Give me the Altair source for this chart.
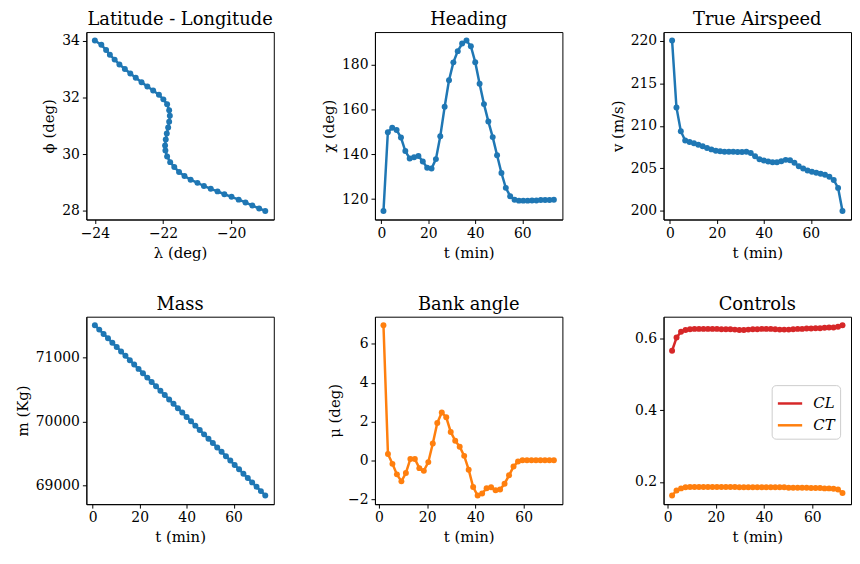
import altair as alt
import pandas as pd

# ---- data ----
t_state = [0.93, 2.79, 4.65, 6.51, 8.37, 10.23, 12.09, 13.95, 15.81, 17.67, 19.53, 21.39, 23.25,
           25.11, 26.97, 28.83, 30.69, 32.55, 34.41, 36.27, 38.13, 39.99, 41.85, 43.71, 45.57,
           47.43, 49.29, 51.15, 53.01, 54.87, 56.73, 58.59, 60.45, 62.31, 64.17, 66.03, 67.89,
           69.75, 71.61, 73.47]
t_ctrl = [1.86, 3.72, 5.58, 7.44, 9.30, 11.16, 13.02, 14.88, 16.74, 18.60, 20.46, 22.32, 24.18,
          26.04, 27.90, 29.76, 31.62, 33.48, 35.34, 37.20, 39.06, 40.92, 42.78, 44.64, 46.50,
          48.36, 50.22, 52.08, 53.94, 55.80, 57.66, 59.52, 61.38, 63.24, 65.10, 66.96, 68.82,
          70.68, 72.54]

lon = [-24.00, -23.81, -23.67, -23.56, -23.42, -23.28, -23.12, -22.96, -22.80, -22.63, -22.46,
       -22.29, -22.12, -21.99, -21.88, -21.82, -21.80, -21.82, -21.85, -21.89, -21.92, -21.94,
       -21.93, -21.88, -21.79, -21.67, -21.53, -21.37, -21.19, -20.99, -20.80, -20.60, -20.40,
       -20.20, -19.99, -19.78, -19.58, -19.38, -19.18, -19.00]
lat = [34.00, 33.85, 33.67, 33.50, 33.33, 33.16, 33.00, 32.84, 32.69, 32.53, 32.38, 32.24, 32.09,
       31.93, 31.76, 31.55, 31.35, 31.14, 30.94, 30.73, 30.52, 30.31, 30.13, 29.92, 29.72, 29.55,
       29.37, 29.23, 29.10, 28.99, 28.88, 28.78, 28.69, 28.59, 28.50, 28.40, 28.30, 28.19, 28.09,
       28.00]
heading = [114.7, 149.8, 151.8, 150.8, 147.4, 141.4, 138.1, 138.6, 139.2, 136.7, 134.0, 133.6,
           137.8, 148.0, 161.1, 172.9, 180.9, 185.9, 189.3, 190.6, 188.1, 181.0, 171.4, 162.3,
           154.6, 147.6, 139.5, 131.6, 125.0, 121.3, 119.7, 119.3, 119.3, 119.3, 119.4, 119.4,
           119.6, 119.6, 119.6, 119.7]
airspeed = [220.0, 212.15, 209.36, 208.28, 208.09, 207.94, 207.78, 207.59, 207.40, 207.23, 207.08,
            207.00, 206.96, 206.96, 206.96, 206.92, 206.92, 206.96, 206.81, 206.42, 206.07,
            205.92, 205.80, 205.73, 205.73, 205.84, 206.00, 205.96, 205.65, 205.26, 204.99,
            204.76, 204.60, 204.49, 204.37, 204.26, 204.02, 203.64, 202.71, 200.0]
mass = [71500, 71432, 71364, 71296, 71228, 71160, 71092, 71024, 70956, 70888, 70820, 70752, 70684,
        70616, 70548, 70480, 70412, 70344, 70276, 70208, 70140, 70072, 70004, 69936, 69868, 69800,
        69732, 69664, 69596, 69528, 69460, 69392, 69324, 69256, 69188, 69120, 69052, 68984, 68916,
        68848]
bank = [6.95, 0.34, -0.17, -0.71, -1.07, -0.64, 0.08, 0.08, -0.39, -0.53, -0.08, 0.88, 1.93, 2.47,
        2.22, 1.47, 1.02, 0.71, 0.24, -0.47, -1.36, -1.80, -1.69, -1.42, -1.37, -1.53, -1.49,
        -1.19, -0.76, -0.31, -0.05, 0.02, 0.02, 0.02, 0.02, 0.02, 0.02, 0.02, 0.02]
c_lift = [0.566, 0.603, 0.619, 0.624, 0.626, 0.627, 0.627, 0.627, 0.627, 0.627, 0.627, 0.626,
          0.626, 0.626, 0.625, 0.624, 0.624, 0.625, 0.626, 0.626, 0.627, 0.627, 0.627, 0.626,
          0.625, 0.625, 0.625, 0.626, 0.627, 0.627, 0.628, 0.628, 0.629, 0.629, 0.630, 0.631,
          0.631, 0.633, 0.637]
c_thrust = [0.162, 0.176, 0.182, 0.185, 0.186, 0.186, 0.186, 0.186, 0.186, 0.186, 0.186, 0.186,
            0.186, 0.186, 0.186, 0.185, 0.185, 0.185, 0.185, 0.185, 0.185, 0.185, 0.185, 0.185,
            0.185, 0.185, 0.184, 0.184, 0.184, 0.184, 0.184, 0.183, 0.183, 0.183, 0.182, 0.182,
            0.181, 0.179, 0.169]
series_names = ["CL", "CT"]

BLUE, ORANGE, RED = "#1f77b4", "#ff7f0e", "#d62728"
FONT = "DejaVu Serif"
W, H = 189, 189
COLSP, ROWSP = 102, 98

t_ticks = [0, 20, 40, 60]
state_dom = [-2.7, 77.1]
ctrl_dom = [-1.67, 76.07]
PT = 36


def panel(df, x, y, xdom, ydom, xticks, yticks, xtitle, ytitle, title, color, yfmt=None):
    yaxis = dict(values=yticks, title=ytitle)
    if yfmt:
        yaxis["format"] = yfmt
    return alt.Chart(df, title=title).mark_line(
        color=color, strokeWidth=2.5,
        point=alt.OverlayMarkDef(color=color, size=PT, filled=True, opacity=1),
    ).encode(
        x=alt.X(f"{x}:Q", scale=alt.Scale(domain=xdom, nice=False, zero=False),
                axis=alt.Axis(values=xticks, title=xtitle)),
        y=alt.Y(f"{y}:Q", scale=alt.Scale(domain=ydom, nice=False, zero=False),
                axis=alt.Axis(**yaxis)),
        order="i:Q",
    ).properties(width=W, height=H)


idx_s = list(range(len(t_state)))
idx_c = list(range(len(t_ctrl)))

p1 = panel(pd.DataFrame({"i": idx_s, "lon": lon, "lat": lat}), "lon", "lat",
           [-24.25, -18.75], [27.7, 34.3], [-24, -22, -20], [28, 30, 32, 34],
           "λ (deg)", "ϕ (deg)", "Latitude - Longitude", BLUE)
p2 = panel(pd.DataFrame({"i": idx_s, "t": t_state, "v": heading}), "t", "v",
           state_dom, [110.9, 194.4], t_ticks, [120, 140, 160, 180],
           "t (min)", "χ (deg)", "Heading", BLUE)
p3 = panel(pd.DataFrame({"i": idx_s, "t": t_state, "v": airspeed}), "t", "v",
           state_dom, [199, 221], t_ticks, [200, 205, 210, 215, 220],
           "t (min)", "v (m/s)", "True Airspeed", BLUE)
p4 = panel(pd.DataFrame({"i": idx_s, "t": t_state, "v": mass}), "t", "v",
           state_dom, [68713, 71633], t_ticks, [69000, 70000, 71000],
           "t (min)", "m (Kg)", "Mass", BLUE, yfmt="d")
p5 = panel(pd.DataFrame({"i": idx_c, "t": t_ctrl, "v": bank}), "t", "v",
           ctrl_dom, [-2.24, 7.39], t_ticks, [-2, 0, 2, 4, 6],
           "t (min)", "μ (deg)", "Bank angle", ORANGE)

ctrl_df = pd.DataFrame({
    "i": idx_c + idx_c,
    "t": t_ctrl + t_ctrl,
    "v": c_lift + c_thrust,
    "s": [series_names[0]] * len(c_lift) + [series_names[1]] * len(c_thrust),
})
color_scale = alt.Scale(domain=series_names, range=[RED, ORANGE])
p6 = alt.Chart(ctrl_df, title="Controls").mark_line(
    strokeWidth=2.5,
    point=alt.OverlayMarkDef(size=PT, filled=True, opacity=1),
).encode(
    x=alt.X("t:Q", scale=alt.Scale(domain=ctrl_dom, nice=False, zero=False),
            axis=alt.Axis(values=t_ticks, title="t (min)")),
    y=alt.Y("v:Q", scale=alt.Scale(domain=[0.138, 0.661], nice=False, zero=False),
            axis=alt.Axis(values=[0.2, 0.4, 0.6], format=".1f", title=None)),
    color=alt.Color("s:N", scale=color_scale,
                    legend=alt.Legend(title=None, orient="none",
                                      legendX=2 * (W + COLSP) + 109,
                                      legendY=(H + ROWSP) + 69,
                                      symbolType="stroke", symbolStrokeWidth=2.5,
                                      symbolSize=600, fillColor="white",
                                      strokeColor="#cccccc", cornerRadius=4, padding=5,
                                      labelFont=FONT, labelFontSize=15,
                                      labelFontStyle="italic", rowPadding=0,
                                      labelOffset=10)),
    order="i:Q",
).properties(width=W, height=H)

chart = alt.concat(p1, p2, p3, p4, p5, p6, columns=3,
                   spacing=alt.RowColnumber(row=ROWSP, column=COLSP), bounds="flush").configure_view(
    stroke="black", strokeWidth=1
).configure_axis(
    domainColor="black", tickColor="black", tickSize=4, labelColor="black",
    titleColor="black", labelFont=FONT, titleFont=FONT, labelFontSize=14,
    titleFontSize=15, titleFontWeight="normal", grid=False, labelPadding=3, titlePadding=5,
).configure_title(
    font=FONT, fontSize=18, fontWeight="normal", color="black", offset=3
).properties(
    padding={"left": 6, "top": 0, "right": 0, "bottom": 5},
)

chart.save("out.html", embed_options={"renderer": "svg", "actions": False})
